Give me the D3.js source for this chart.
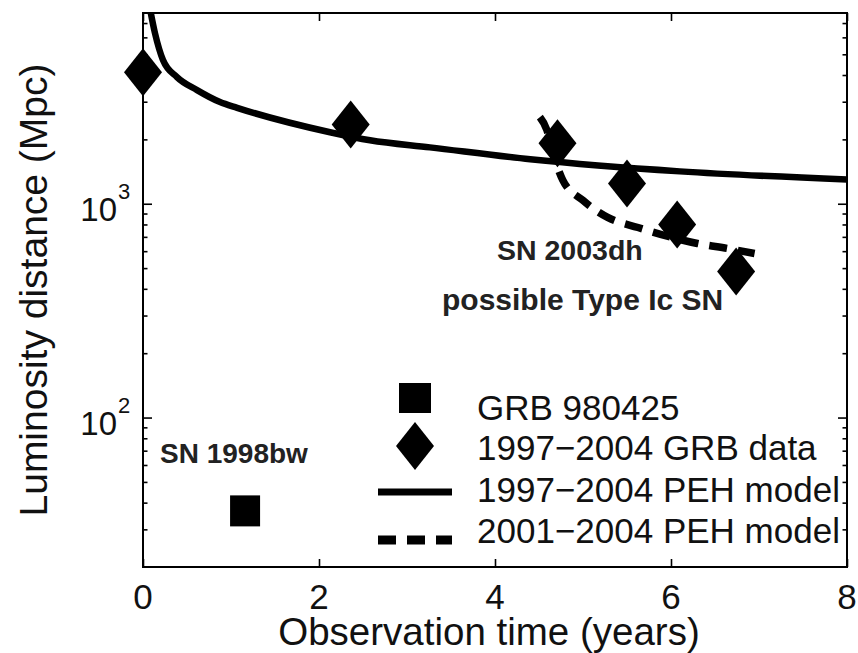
<!DOCTYPE html>
<html lang="en">
<head>
<meta charset="UTF-8">
<title>Luminosity distance vs observation time</title>
<script src="https://d3js.org/d3.v7.min.js"></script>
<style>
    * { margin: 0; padding: 0; }
    body { background: #fff; }
    svg { display: block; font-family: "Liberation Sans", Arial, Helvetica, sans-serif; }
    .axis path, .axis line { stroke: #000; }
</style>
</head>
<body>
<script>
    // values
    var grbTime = [0, 2.36, 4.71, 5.50, 6.07, 6.74];
    var grbDist = [4120, 2350, 1920, 1245, 800, 482];

    var sn98Time = [1.16];
    var sn98Dist = [36.6];

    var peh9704Time = [0.06, 0.136, 0.227, 0.386, 0.614, 0.875, 1.07, 2.125, 2.58, 3.26, 4.4, 6.1, 8.0];
    var peh9704Dist = [9000, 6280, 4700, 3910, 3400, 2990, 2810, 2160, 1980, 1835, 1614, 1417, 1300];

    var peh0104Time = [4.51, 4.59, 4.65, 4.77, 5.0, 5.28, 5.625, 6.3, 6.65, 6.95];
    var peh0104Dist = [2540, 2210, 1780, 1290, 1036, 863, 774, 652, 617, 585];

    var xTicks = [0, 2, 4, 6, 8];
    var yMajor = [100, 1000];
    var yMajorExp = ["2", "3"];
    var yMinor = [30, 40, 50, 60, 70, 80, 90, 200, 300, 400, 500, 600, 700, 800, 900,
                  2000, 3000, 4000, 5000, 6000, 7000];

    var legendLabels = ["GRB 980425", "1997\u22122004 GRB data", "1997\u22122004 PEH model", "2001\u22122004 PEH model"];

    var width = 858, height = 653;
    var pL = 143, pR = 847, pT = 13, pB = 567;

    var x = d3.scaleLinear().domain([0, 8]).range([pL, pR]);
    var y = d3.scaleLog().domain([20, 7800]).range([pB, pT]);

    var svg = d3.select("body").append("svg")
        .attr("width", width)
        .attr("height", height);

    svg.append("clipPath").attr("id", "plotclip")
        .append("rect")
        .attr("x", pL).attr("y", pT)
        .attr("width", pR - pL).attr("height", pB - pT);

    // ticks, inward on all four sides
    function tickAxis(axis, tx, ty) {
        var g = svg.append("g").attr("class", "axis")
            .attr("transform", "translate(" + tx + "," + ty + ")")
            .call(axis);
        g.select(".domain").remove();
        g.selectAll("text").remove();
        g.selectAll("line").attr("stroke-width", 1.6);
    }
    tickAxis(d3.axisBottom(x).tickValues(xTicks).tickSize(-8), 0, pB);
    tickAxis(d3.axisTop(x).tickValues(xTicks).tickSize(-8), 0, pT);
    tickAxis(d3.axisLeft(y).tickValues(yMajor).tickSize(-9), pL, 0);
    tickAxis(d3.axisRight(y).tickValues(yMajor).tickSize(-9), pR, 0);
    tickAxis(d3.axisLeft(y).tickValues(yMinor).tickSize(-4.5), pL, 0);
    tickAxis(d3.axisRight(y).tickValues(yMinor).tickSize(-4.5), pR, 0);

    // frame
    svg.append("rect")
        .attr("x", pL).attr("y", pT)
        .attr("width", pR - pL).attr("height", pB - pT)
        .attr("fill", "none")
        .attr("stroke", "#000")
        .attr("stroke-width", 2);

    // tick labels
    svg.selectAll(".xlab")
        .data(xTicks)
        .enter()
        .append("text")
        .attr("x", function(d) { return x(d); })
        .attr("y", pB + 42)
        .attr("text-anchor", "middle")
        .attr("font-size", 35)
        .attr("fill", "#111")
        .text(function(d) { return d; });

    yMajor.forEach(function(v, i) {
        svg.append("text")
            .attr("x", 117).attr("y", y(v) + 17)
            .attr("text-anchor", "end")
            .attr("font-size", 33)
            .attr("fill", "#111")
            .text("10");
        svg.append("text")
            .attr("x", 118).attr("y", y(v) - 5)
            .attr("font-size", 22)
            .attr("fill", "#111")
            .text(yMajorExp[i]);
    });

    // axis titles
    svg.append("text")
        .attr("x", 489).attr("y", 645)
        .attr("text-anchor", "middle")
        .attr("font-size", 38.5)
        .attr("fill", "#111")
        .text("Observation time (years)");

    svg.append("text")
        .attr("transform", "translate(47,290) rotate(-90)")
        .attr("text-anchor", "middle")
        .attr("font-size", 39)
        .attr("fill", "#111")
        .text("Luminosity distance (Mpc)");

    // model curves
    var line = d3.line()
        .x(function(d) { return x(d[0]); })
        .y(function(d) { return y(d[1]); })
        .curve(d3.curveMonotoneX);

    var plot = svg.append("g").attr("clip-path", "url(#plotclip)");

    plot.append("path")
        .datum(d3.zip(peh9704Time, peh9704Dist))
        .attr("d", line)
        .attr("fill", "none")
        .attr("stroke", "#000")
        .attr("stroke-width", 6.5);

    plot.append("path")
        .datum(d3.zip(peh0104Time, peh0104Dist))
        .attr("d", line)
        .attr("fill", "none")
        .attr("stroke", "#000")
        .attr("stroke-width", 7.5)
        .attr("stroke-dasharray", "18,11");

    // markers
    function diamond(cx, cy) {
        var w = 19, h = 24;
        return "M" + cx + "," + (cy - h) + "L" + (cx + w) + "," + cy +
               "L" + cx + "," + (cy + h) + "L" + (cx - w) + "," + cy + "Z";
    }

    svg.selectAll(".grb")
        .data(d3.zip(grbTime, grbDist))
        .enter()
        .append("path")
        .attr("d", function(d) { return diamond(x(d[0]), y(d[1])); })
        .attr("fill", "#000");

    svg.selectAll(".sn98")
        .data(d3.zip(sn98Time, sn98Dist))
        .enter()
        .append("rect")
        .attr("x", function(d) { return x(d[0]) - 15; })
        .attr("y", function(d) { return y(d[1]) - 15.5; })
        .attr("width", 30)
        .attr("height", 31)
        .attr("fill", "#000");

    // annotations
    svg.append("text").attr("x", 160).attr("y", 463)
        .attr("font-size", 28).attr("font-weight", "bold").attr("fill", "#222")
        .text("SN 1998bw");
    svg.append("text").attr("x", 497).attr("y", 260)
        .attr("font-size", 28.5).attr("font-weight", "bold").attr("fill", "#222")
        .text("SN 2003dh");
    svg.append("text").attr("x", 442).attr("y", 310)
        .attr("font-size", 30).attr("font-weight", "bold").attr("fill", "#222")
        .text("possible Type Ic SN");

    // legend
    var lg = svg.append("g");
    lg.append("rect").attr("x", 399).attr("y", 383).attr("width", 32).attr("height", 30).attr("fill", "#000");
    lg.append("path").attr("d", diamond(415, 446)).attr("fill", "#000");
    lg.append("line").attr("x1", 378).attr("x2", 452).attr("y1", 492).attr("y2", 492)
        .attr("stroke", "#000").attr("stroke-width", 7);
    lg.append("line").attr("x1", 378).attr("x2", 452).attr("y1", 540).attr("y2", 540)
        .attr("stroke", "#000").attr("stroke-width", 9).attr("stroke-dasharray", "18,11");

    var legendY = [420, 460, 502, 543];
    lg.selectAll("text")
        .data(legendLabels)
        .enter()
        .append("text")
        .attr("x", 477)
        .attr("y", function(d, i) { return legendY[i]; })
        .attr("font-size", 35)
        .attr("fill", "#111")
        .text(function(d) { return d; });
</script>
</body>
</html>
